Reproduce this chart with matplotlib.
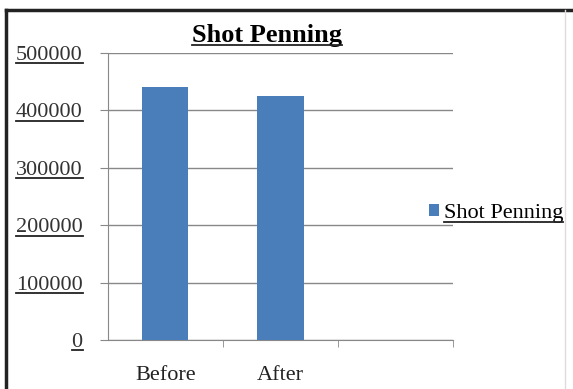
import matplotlib.pyplot as plt
from matplotlib.lines import Line2D

categories = ['Before', 'After', '']
values = [440000, 425000, 0]
series_name = 'Shot Penning'
yticks = [0, 100000, 200000, 300000, 400000, 500000]

plt.rcParams['font.family'] = 'Liberation Serif'

fig = plt.figure(figsize=(5.73, 3.89), dpi=100)
ax = fig.add_axes([0.188, 0.126, 0.603, 0.738])

x = list(range(len(categories)))
ax.bar(x[:2], values[:2], width=0.4, color='#4a7ebb', zorder=3, label=series_name)
ax.set_xlim(-0.5, 2.5)
ax.set_ylim(0, 500000)
ax.set_yticks(yticks)
ax.set_yticklabels([str(v) for v in yticks])
ax.set_xticks(x)
ax.set_xticklabels(categories, fontsize=16, color='#222222')
ax.set_xticks([0.5, 1.5, 2.5], minor=True)
ax.tick_params(axis='x', which='major', length=0, pad=19)
ax.tick_params(axis='x', which='minor', length=5, color='#888888', direction='out')
ax.tick_params(axis='y', length=6, color='#888888', labelsize=16, pad=12,
               labelcolor='#333333')
ax.grid(axis='y', color='#888888', linewidth=1, zorder=0)
for s in ['top', 'right']:
    ax.spines[s].set_visible(False)
for s in ['left', 'bottom']:
    ax.spines[s].set_color('#888888')

title = ax.set_title(series_name, fontsize=19, fontweight='bold', pad=8, x=0.46)

leg = ax.legend(loc='center left', bbox_to_anchor=(0.93, 0.44), frameon=False,
                fontsize=16, handlelength=0.45, handleheight=0.45, handletextpad=0.2,
                borderaxespad=0, borderpad=0)

# chart border: dark left/top, faint right
fig.add_artist(Line2D([0.01, 0.01], [0, 0.975], color='#222222', linewidth=2.5))
fig.add_artist(Line2D([0.01, 1.0], [0.975, 0.975], color='#222222', linewidth=2.5))
fig.add_artist(Line2D([0.986, 0.986], [0, 0.975], color='#dddddd', linewidth=1))

# underline texts like the Excel chart
fig.canvas.draw()
r = fig.canvas.get_renderer()
W, H = fig.bbox.width, fig.bbox.height
to_line = [title] + ax.get_yticklabels() + leg.get_texts()
for t in to_line:
    bb = t.get_window_extent(r)
    y = bb.y0 + 1.5
    fig.add_artist(Line2D([bb.x0 / W, bb.x1 / W], [y / H, y / H],
                          color='#222222', linewidth=1.3))

plt.savefig('out.png')
